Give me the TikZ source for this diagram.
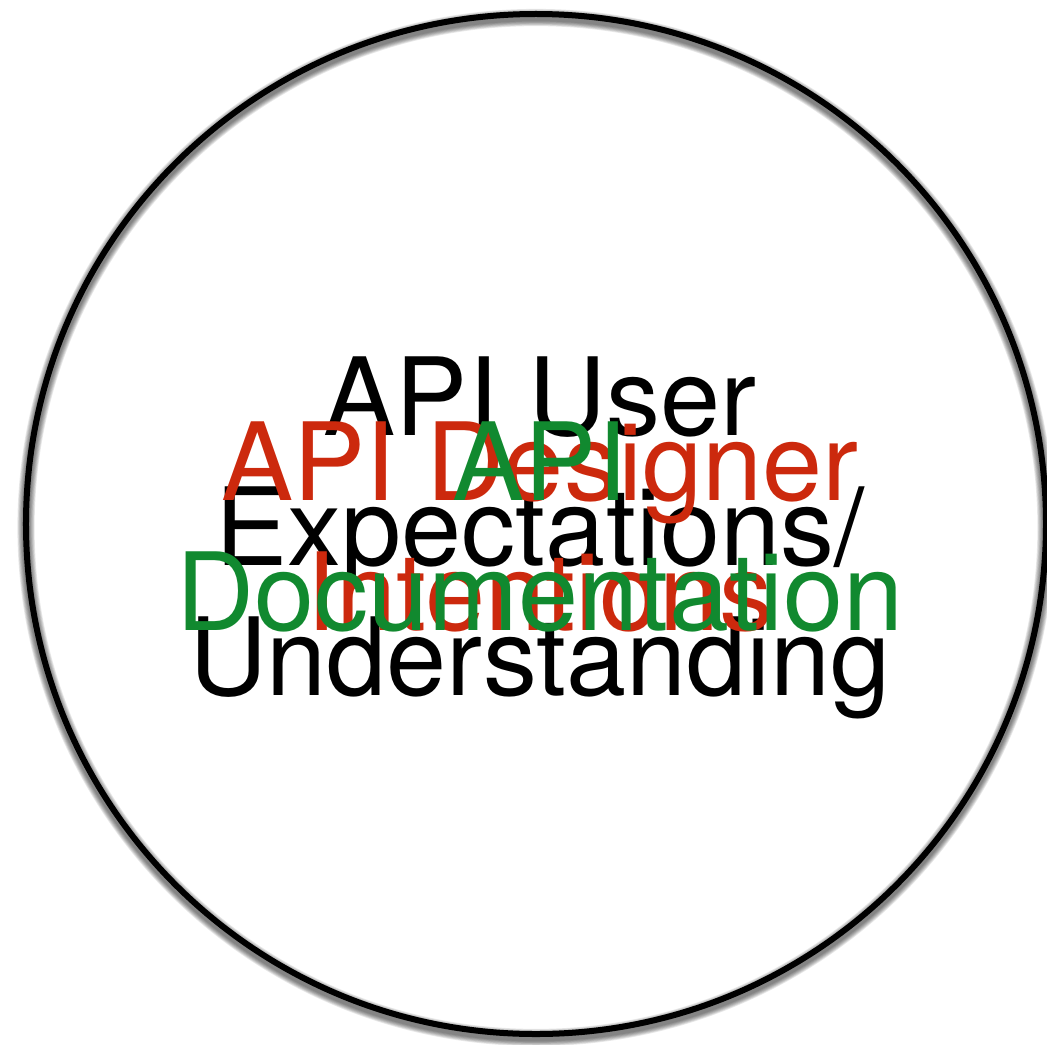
\documentclass[tikz,border=0pt]{standalone}
\usepackage{fontspec}
\newfontfamily\labelfont{TeX Gyre Heros}
\definecolor{userblack}{RGB}{0,0,0}
\definecolor{designred}{RGB}{204,41,13}
\definecolor{docgreen}{RGB}{17,137,47}
\begin{document}
\begin{tikzpicture}[x=1bp,y=-1bp,
  word/.style={anchor=base, inner sep=0pt, font=\labelfont\fontsize{108bp}{130bp}\selectfont},
  ring/.style={draw=black, line width=6bp}]
\useasboundingbox (0,0) rectangle (1047,1045);
% soft shadow under the ring, offset downwards
\foreach \k in {1,...,7} {
  \draw[black, opacity=0.09, line width={6bp+1.6bp*\k}] (536,{524+3.5}) circle[radius=510];
}
\node[ring, circle, minimum size=1020bp, inner sep=0pt] (border) at (536,524) {};
% black: the user's view
\node[word, text=userblack] (user1) at (540,435) {API User};
\node[word, text=userblack] (user2) at (540,565) {Expectations/};
\node[word, text=userblack] (user3) at (540,695) {Understanding};
% red: the designer's intent
\node[word, text=designred] (design1) at (540,500) {API Designer};
\node[word, text=designred] (design2) at (540,630) {Intentions};
% green: what is written down
\node[word, text=docgreen] (doc1) at (540,500) {API};
\node[word, text=docgreen] (doc2) at (540,630) {Documentation};
\end{tikzpicture}
\end{document}
